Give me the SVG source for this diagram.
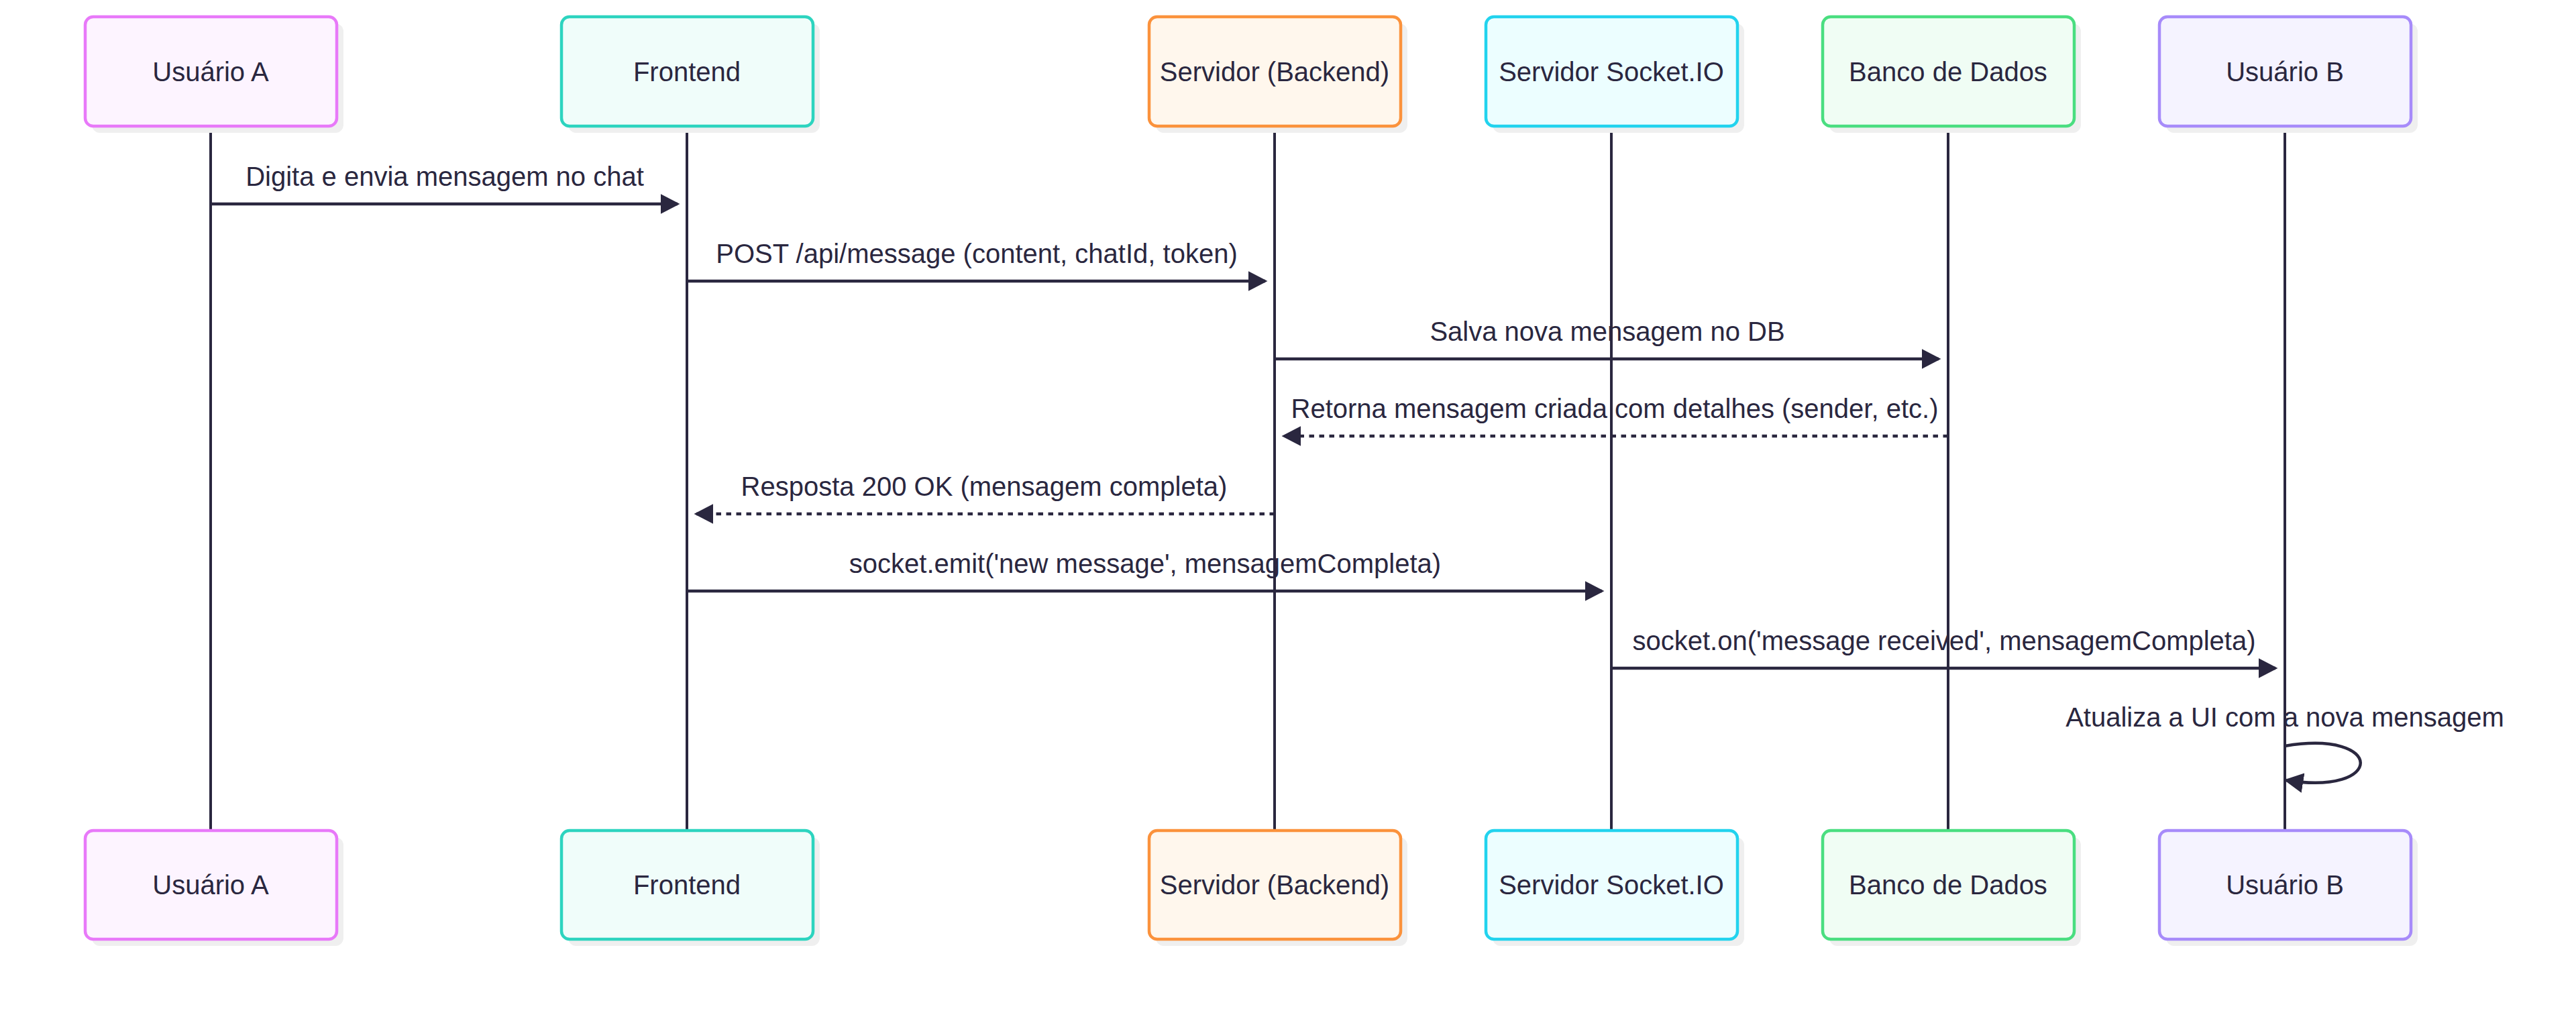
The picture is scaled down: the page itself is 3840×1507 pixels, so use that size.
<svg xmlns="http://www.w3.org/2000/svg" width="3840" height="1507" viewBox="0 0 3840 1507">
<style>
  text { font-family: "Liberation Sans", Arial, sans-serif; font-size: 40px; fill: #2a273f; }
  .lbl { text-anchor: middle; dominant-baseline: central; }
  .msg { text-anchor: middle; }
  .shadow { fill: #efefef; }
  .box { stroke-width: 4.5; }
  .life { stroke: #2a273f; stroke-width: 4; }
  .arrow { stroke: #2a273f; stroke-width: 4.5; fill: none; marker-end: url(#ah); }
  .dotted { stroke-dasharray: 7.5 7.5; }
  .a { fill: #fdf4ff; stroke: #e879f9; }
  .f { fill: #f0fdfa; stroke: #2dd4bf; }
  .b { fill: #fff7ed; stroke: #fb923c; }
  .s { fill: #ecfeff; stroke: #22d3ee; }
  .d { fill: #f0fdf4; stroke: #4ade80; }
  .u { fill: #f5f3ff; stroke: #a78bfa; }
</style>
<defs>
  <marker id="ah" markerUnits="userSpaceOnUse" markerWidth="30" markerHeight="30" refX="22" refY="13" orient="auto" viewBox="0 0 26 26">
    <path d="M0,0 L25,13 L0,26 z" fill="#2a273f"/>
  </marker>
</defs>
<rect width="3840" height="1507" fill="#ffffff"/>

<g id="lifelines">
  <line class="life" x1="314" y1="190" x2="314" y2="1238"/>
  <line class="life" x1="1024" y1="190" x2="1024" y2="1238"/>
  <line class="life" x1="1900" y1="190" x2="1900" y2="1238"/>
  <line class="life" x1="2402" y1="190" x2="2402" y2="1238"/>
  <line class="life" x1="2904" y1="190" x2="2904" y2="1238"/>
  <line class="life" x1="3406" y1="190" x2="3406" y2="1238"/>
</g>

<g id="usuario-a">
  <rect class="shadow" x="137" y="35" width="375" height="163" rx="12"/>
  <rect class="box a" x="127" y="25" width="375" height="163" rx="12"/>
  <text class="lbl" x="314" y="107">Usuário A</text>
  <rect class="shadow" x="137" y="1248" width="375" height="162" rx="12"/>
  <rect class="box a" x="127" y="1238" width="375" height="162" rx="12"/>
  <text class="lbl" x="314" y="1319">Usuário A</text>
</g>

<g id="frontend">
  <rect class="shadow" x="847" y="35" width="375" height="163" rx="12"/>
  <rect class="box f" x="837" y="25" width="375" height="163" rx="12"/>
  <text class="lbl" x="1024" y="107">Frontend</text>
  <rect class="shadow" x="847" y="1248" width="375" height="162" rx="12"/>
  <rect class="box f" x="837" y="1238" width="375" height="162" rx="12"/>
  <text class="lbl" x="1024" y="1319">Frontend</text>
</g>

<g id="backend">
  <rect class="shadow" x="1723" y="35" width="375" height="163" rx="12"/>
  <rect class="box b" x="1713" y="25" width="375" height="163" rx="12"/>
  <text class="lbl" x="1900" y="107">Servidor (Backend)</text>
  <rect class="shadow" x="1723" y="1248" width="375" height="162" rx="12"/>
  <rect class="box b" x="1713" y="1238" width="375" height="162" rx="12"/>
  <text class="lbl" x="1900" y="1319">Servidor (Backend)</text>
</g>

<g id="socketio">
  <rect class="shadow" x="2225" y="35" width="375" height="163" rx="12"/>
  <rect class="box s" x="2215" y="25" width="375" height="163" rx="12"/>
  <text class="lbl" x="2402" y="107">Servidor Socket.IO</text>
  <rect class="shadow" x="2225" y="1248" width="375" height="162" rx="12"/>
  <rect class="box s" x="2215" y="1238" width="375" height="162" rx="12"/>
  <text class="lbl" x="2402" y="1319">Servidor Socket.IO</text>
</g>

<g id="banco">
  <rect class="shadow" x="2727" y="35" width="375" height="163" rx="12"/>
  <rect class="box d" x="2717" y="25" width="375" height="163" rx="12"/>
  <text class="lbl" x="2904" y="107">Banco de Dados</text>
  <rect class="shadow" x="2727" y="1248" width="375" height="162" rx="12"/>
  <rect class="box d" x="2717" y="1238" width="375" height="162" rx="12"/>
  <text class="lbl" x="2904" y="1319">Banco de Dados</text>
</g>

<g id="usuario-b">
  <rect class="shadow" x="3229" y="35" width="375" height="163" rx="12"/>
  <rect class="box u" x="3219" y="25" width="375" height="163" rx="12"/>
  <text class="lbl" x="3406" y="107">Usuário B</text>
  <rect class="shadow" x="3229" y="1248" width="375" height="162" rx="12"/>
  <rect class="box u" x="3219" y="1238" width="375" height="162" rx="12"/>
  <text class="lbl" x="3406" y="1319">Usuário B</text>
</g>

<g id="connectors">
  <line class="arrow" x1="314" y1="304" x2="1010" y2="304"/>
  <text class="msg" x="663" y="277">Digita e envia mensagem no chat</text>

  <line class="arrow" x1="1024" y1="419" x2="1886" y2="419"/>
  <text class="msg" x="1456" y="392">POST /api/message (content, chatId, token)</text>

  <line class="arrow" x1="1900" y1="535" x2="2890" y2="535"/>
  <text class="msg" x="2396" y="508">Salva nova mensagem no DB</text>

  <line class="arrow dotted" x1="2904" y1="650" x2="1914" y2="650"/>
  <text class="msg" x="2407" y="623">Retorna mensagem criada com detalhes (sender, etc.)</text>

  <line class="arrow dotted" x1="1900" y1="766" x2="1038" y2="766"/>
  <text class="msg" x="1467" y="739">Resposta 200 OK (mensagem completa)</text>

  <line class="arrow" x1="1024" y1="881" x2="2388" y2="881"/>
  <text class="msg" x="1707" y="854">socket.emit('new message', mensagemCompleta)</text>

  <line class="arrow" x1="2402" y1="996" x2="3392" y2="996"/>
  <text class="msg" x="2898" y="969">socket.on('message received', mensagemCompleta)</text>

  <path class="arrow" d="M3406,1112 C3556,1087 3556,1187 3408,1163"/>
  <text class="msg" x="3406" y="1083">Atualiza a UI com a nova mensagem</text>
</g>
</svg>
